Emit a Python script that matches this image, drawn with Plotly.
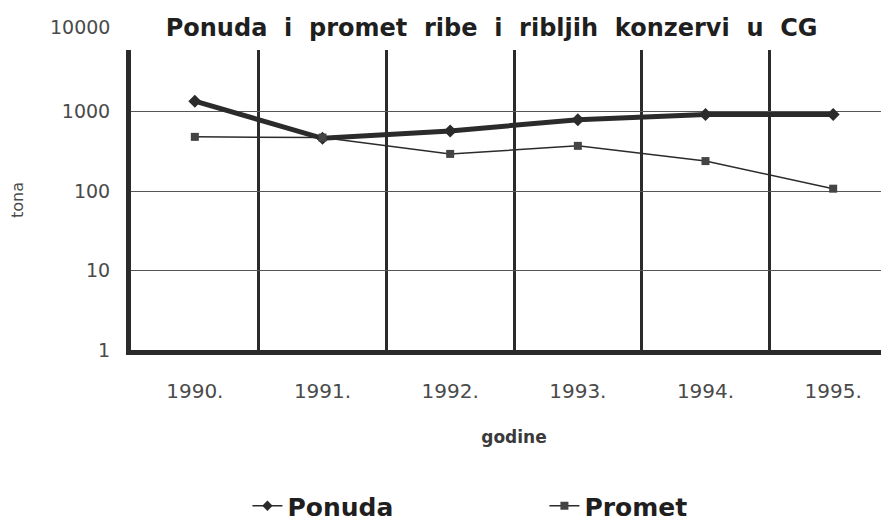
import plotly.graph_objects as go

godine = ["1990.", "1991.", "1992.", "1993.", "1994.", "1995."]
ponuda = [1350, 460, 570, 790, 920, 920]
promet = [480, 470, 293, 370, 238, 107]
ytick_vals = [1, 10, 100, 1000]
ytick_text = ["1", "10", "100", "1000"]
ytop_label = "10000"

ink = "#2b2b2b"
txt = "#4a4a4a"
sp = "\u00a0 "
title_text = sp.join("Ponuda i promet ribe i ribljih konzervi u CG".split(" "))

fig = go.Figure()
fig.add_trace(go.Scatter(
    x=godine, y=ponuda, name="Ponuda", mode="lines+markers", showlegend=False,
    line=dict(color=ink, width=5),
    marker=dict(symbol="diamond", size=10, color=ink),
))
fig.add_trace(go.Scatter(
    x=godine, y=promet, name="Promet", mode="lines+markers", showlegend=False,
    line=dict(color=ink, width=1.5),
    marker=dict(symbol="square", size=8, color="#444444"),
))
# legend entries (thin line keys, as in the reference)
fig.add_trace(go.Scatter(
    x=[None], y=[None], name="<b>Ponuda</b>", mode="lines+markers",
    line=dict(color=ink, width=1.5), marker=dict(symbol="diamond", size=8, color=ink),
))
fig.add_trace(go.Scatter(
    x=[None], y=[None], name="<b>Promet</b>", mode="lines+markers",
    line=dict(color=ink, width=1.5), marker=dict(symbol="square", size=8, color="#444444"),
))

fig.update_layout(
    width=889, height=520,
    margin=dict(l=123, r=0, t=42, b=178, autoexpand=False),
    paper_bgcolor="white", plot_bgcolor="white",
    title=dict(text="<b>" + title_text + "</b>",
               x=0.544, xanchor="center", y=0.962, yanchor="middle",
               font=dict(family="DejaVu Sans", size=24, color="#1f1f1f")),
    showlegend=True,
    legend=dict(orientation="h", x=0.152, xanchor="left", y=-0.52, yanchor="middle",
                font=dict(family="DejaVu Sans", size=25, color="#1f1f1f"),
                entrywidth=252, entrywidthmode="pixels", bgcolor="rgba(0,0,0,0)"),
    font=dict(family="DejaVu Sans", color=txt),
    annotations=[dict(text=ytop_label, xref="paper", yref="paper", x=0, y=1.077,
                      xanchor="right", yanchor="middle", xshift=-19, showarrow=False,
                      font=dict(family="DejaVu Sans", size=19, color=txt))],
)

fig.update_xaxes(
    type="category", categoryorder="array", categoryarray=godine,
    range=[-0.5, 5.5], automargin=False,
    tickson="boundaries", ticks="", showgrid=True, gridcolor=ink, gridwidth=2.5,
    showline=True, linecolor=ink, linewidth=5,
    tickfont=dict(family="DejaVu Sans", size=20, color=txt),
    ticklabelstandoff=19,
    title=dict(text="<b>godine</b>", standoff=31,
               font=dict(family="DejaVu Sans", size=17, color="#3a3a3a")),
    zeroline=False,
)
fig.update_yaxes(
    type="log", range=[0, 3.774], automargin=False,
    tickvals=ytick_vals, ticktext=ytick_text,
    showgrid=True, gridcolor="#555555", gridwidth=1.2,
    showline=True, linecolor=ink, linewidth=5,
    ticks="", tickfont=dict(family="DejaVu Sans", size=19, color=txt),
    ticklabelstandoff=12,
    title=dict(text="tona", standoff=43,
               font=dict(family="DejaVu Sans", size=16, color=txt)),
    zeroline=False,
)

fig.write_html("out.html")
